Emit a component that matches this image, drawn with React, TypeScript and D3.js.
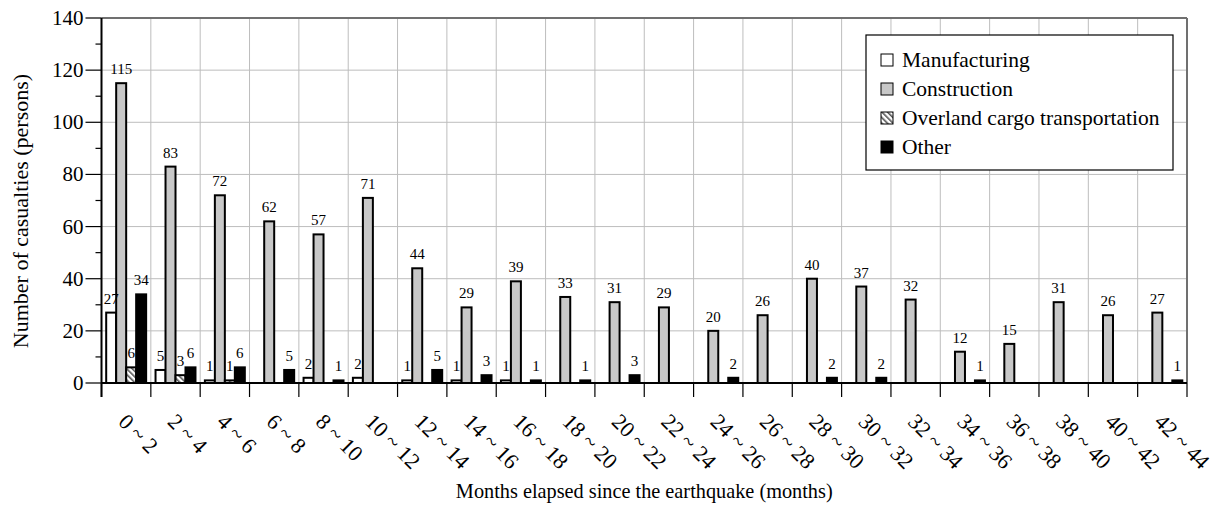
import React from "react";
import * as d3 from "d3";

const categories = [
  "0 ~ 2", "2 ~ 4", "4 ~ 6", "6 ~ 8", "8 ~ 10", "10 ~ 12", "12 ~ 14", "14 ~ 16",
  "16 ~ 18", "18 ~ 20", "20 ~ 22", "22 ~ 24", "24 ~ 26", "26 ~ 28", "28 ~ 30",
  "30 ~ 32", "32 ~ 34", "34 ~ 36", "36 ~ 38", "38 ~ 40", "40 ~ 42", "42 ~ 44",
];

const seriesNames = ["Manufacturing", "Construction", "Overland cargo transportation", "Other"];

const manufacturing = [27, 5, 1, 0, 2, 2, 1, 1, 1, 0, 0, 0, 0, 0, 0, 0, 0, 0, 0, 0, 0, 0];
const construction = [115, 83, 72, 62, 57, 71, 44, 29, 39, 33, 31, 29, 20, 26, 40, 37, 32, 12, 15, 31, 26, 27];
const overland = [6, 3, 1, 0, 0, 0, 0, 0, 0, 0, 0, 0, 0, 0, 0, 0, 0, 0, 0, 0, 0, 0];
const other = [34, 6, 6, 5, 1, 0, 5, 3, 1, 1, 3, 0, 2, 0, 2, 2, 0, 1, 0, 0, 0, 1];

const yTicks = [0, 20, 40, 60, 80, 100, 120, 140];
const yMinorTicks = [10, 30, 50, 70, 90, 110, 130];

const xTitle = "Months elapsed since the earthquake (months)";
const yTitle = "Number of casualties (persons)";

const W = 1226;
const H = 507;
const left = 101.5;
const right = 1187;
const top = 18;
const bottom = 383;
const FONT = "'Liberation Serif', 'Times New Roman', serif";

const fills = ["#ffffff", "#c8c8c8", "url(#hatch)", "#000000"];

export default function App() {
  const values = [manufacturing, construction, overland, other];
  const x = d3.scaleBand<string>().domain(categories).range([left, right]).paddingInner(0).paddingOuter(0);
  const xs = d3.scaleBand<string>().domain(seriesNames).range([0, x.bandwidth()]).paddingInner(0).paddingOuter(0.47);
  const y = d3.scaleLinear().domain([0, 140]).range([bottom, top]);

  const boundaries = categories.map((c) => x(c) as number).concat([right]);

  return (
    <svg width={W} height={H} style={{ position: "absolute", left: 0, top: 0, background: "#fff" }} fontFamily={FONT}>
      <defs>
        <pattern id="hatch" patternUnits="userSpaceOnUse" width="4" height="4" patternTransform="rotate(-45)">
          <rect width="4" height="4" fill="#ffffff" />
          <rect x="0" y="0" width="1.6" height="4" fill="#555" />
        </pattern>
      </defs>
      {/* grid */}
      {yTicks.filter((t) => t > 0 && t < 140).map((t) => (
        <line key={"hg" + t} x1={left} x2={right} y1={y(t)} y2={y(t)} stroke="#bdbdbd" strokeWidth={1} />
      ))}
      {boundaries.slice(1, -1).map((bx, i) => (
        <line key={"vg" + i} x1={bx} x2={bx} y1={top} y2={bottom} stroke="#bdbdbd" strokeWidth={1} />
      ))}
      {/* top & right border */}
      <line x1={left} x2={right} y1={top} y2={top} stroke="#707070" strokeWidth={2} />
      <line x1={right} x2={right} y1={top} y2={bottom} stroke="#707070" strokeWidth={2} />

      {/* bars */}
      {values.map((vals, si) =>
        vals.map((v, ci) =>
          v > 0 ? (
            <rect
              key={`b${si}-${ci}`}
              x={(x(categories[ci]) as number) + (xs(seriesNames[si]) as number)}
              y={y(v)}
              width={xs.bandwidth()}
              height={bottom - y(v)}
              fill={fills[si]}
              stroke="#000"
              strokeWidth={2}
            />
          ) : null
        )
      )}
      {/* value labels */}
      {values.map((vals, si) =>
        vals.map((v, ci) =>
          v > 0 ? (
            <text
              key={`l${si}-${ci}`}
              x={(x(categories[ci]) as number) + (xs(seriesNames[si]) as number) + xs.bandwidth() / 2}
              y={y(v) - 9}
              textAnchor="middle"
              fontSize={15}
              fill="#000"
            >
              {v}
            </text>
          ) : null
        )
      )}

      {/* axes */}
      <line x1={left} x2={left} y1={top} y2={bottom + 14} stroke="#000" strokeWidth={2} />
      <line x1={left} x2={right} y1={bottom} y2={bottom} stroke="#000" strokeWidth={2} />
      {boundaries.map((bx, i) => (
        <line key={"xt" + i} x1={bx} x2={bx} y1={bottom} y2={bottom + 14} stroke="#000" strokeWidth={1.2} />
      ))}
      {yTicks.map((t) => (
        <g key={"yt" + t}>
          <line x1={left - 16} x2={left} y1={y(t)} y2={y(t)} stroke="#000" strokeWidth={1.2} />
          <text x={left - 18} y={y(t)} textAnchor="end" dominantBaseline="central" fontSize={21}>
            {t}
          </text>
        </g>
      ))}
      {yMinorTicks.map((t) => (
        <line key={"ym" + t} x1={left - 6} x2={left} y1={y(t)} y2={y(t)} stroke="#000" strokeWidth={1.2} />
      ))}
      {categories.map((c) => {
        const cx = (x(c) as number) + x.bandwidth() / 2;
        return (
          <text key={"xl" + c} transform={`translate(${cx - 9},${423}) rotate(45)`} fontSize={22} textAnchor="start">
            {c}
          </text>
        );
      })}
      <text x={(left + right) / 2} y={498} textAnchor="middle" fontSize={20.3}>
        {xTitle}
      </text>
      <text transform={`translate(28,211) rotate(-90)`} textAnchor="middle" fontSize={22}>
        {yTitle}
      </text>

      {/* legend */}
      <rect x={866} y={35} width={307} height={135} fill="#fff" stroke="#000" strokeWidth={1.2} />
      {seriesNames.map((s, i) => (
        <g key={"lg" + s} transform={`translate(881,${60 + i * 29})`}>
          <rect x={0} y={-6} width={12} height={12} fill={fills[i]} stroke="#000" strokeWidth={1} />
          <text x={21} y={0} dominantBaseline="central" fontSize={21.5}>
            {s}
          </text>
        </g>
      ))}
    </svg>
  );
}
